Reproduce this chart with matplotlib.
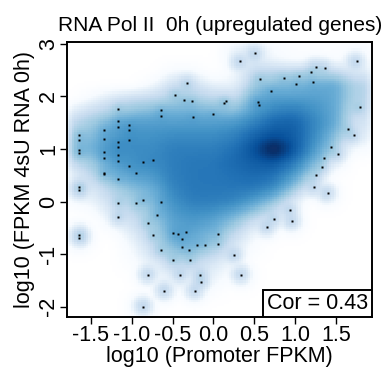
import numpy as np
import matplotlib
matplotlib.use("Agg")
import matplotlib.pyplot as plt
from matplotlib.colors import LinearSegmentedColormap
from matplotlib.patches import Rectangle

plt.rcParams["font.family"] = ["Liberation Sans", "DejaVu Sans"]
plt.rcParams["axes.unicode_minus"] = False

# coarse density (colour level 0-1), rows = y, cols = x
grid_x = [-1.75, -1.5, -1.25, -1.0, -0.75, -0.5, -0.25, 0.0, 0.25, 0.5, 0.75, 1.0, 1.25, 1.5, 1.75]
grid_y = [2.75, 2.5, 2.25, 2.0, 1.75, 1.5, 1.25, 1.0, 0.75, 0.5, 0.25, 0.0,
          -0.25, -0.5, -0.75, -1.0, -1.25, -1.5, -1.75, -2.0]
density = [
    [0, 0, 0, 0, 0, 0, 0, 0, 0.15, 0.2, 0.1, 0.05, 0.05, 0.05, 0.1],
    [0, 0, 0, 0, 0, 0.1, 0.1, 0, 0.1, 0.3, 0.32, 0.32, 0.32, 0.3, 0.2],
    [0, 0, 0, 0, 0.1, 0.28, 0.28, 0.15, 0.15, 0.38, 0.45, 0.45, 0.5, 0.52, 0.35],
    [0, 0.1, 0.22, 0.28, 0.3, 0.35, 0.35, 0.32, 0.28, 0.5, 0.55, 0.55, 0.55, 0.52, 0.35],
    [0.18, 0.28, 0.35, 0.42, 0.45, 0.48, 0.48, 0.45, 0.42, 0.55, 0.64, 0.66, 0.6, 0.52, 0.3],
    [0.32, 0.4, 0.5, 0.56, 0.56, 0.56, 0.56, 0.56, 0.58, 0.65, 0.74, 0.75, 0.64, 0.52, 0.25],
    [0.38, 0.45, 0.56, 0.6, 0.6, 0.62, 0.62, 0.62, 0.65, 0.74, 0.8, 0.76, 0.62, 0.45, 0.2],
    [0.42, 0.5, 0.6, 0.62, 0.62, 0.66, 0.66, 0.66, 0.7, 0.8, 1.0, 0.78, 0.58, 0.35, 0.1],
    [0.32, 0.4, 0.55, 0.6, 0.62, 0.66, 0.68, 0.68, 0.72, 0.76, 0.78, 0.68, 0.48, 0.2, 0],
    [0.15, 0.32, 0.48, 0.54, 0.58, 0.66, 0.68, 0.68, 0.7, 0.72, 0.7, 0.56, 0.32, 0.05, 0],
    [0.28, 0.22, 0.36, 0.45, 0.5, 0.64, 0.68, 0.68, 0.68, 0.68, 0.62, 0.42, 0.15, 0, 0],
    [0.1, 0.15, 0.28, 0.36, 0.46, 0.6, 0.66, 0.66, 0.64, 0.55, 0.42, 0.2, 0, 0, 0],
    [0, 0.05, 0.22, 0.3, 0.42, 0.56, 0.6, 0.58, 0.5, 0.38, 0.25, 0.1, 0, 0, 0],
    [0, 0, 0.1, 0.24, 0.36, 0.53, 0.55, 0.5, 0.38, 0.2, 0.1, 0, 0, 0, 0],
    [0.05, 0, 0, 0.15, 0.32, 0.5, 0.5, 0.42, 0.26, 0.1, 0, 0, 0, 0, 0],
    [0, 0, 0, 0.1, 0.26, 0.4, 0.4, 0.32, 0.2, 0.05, 0, 0, 0, 0, 0],
    [0, 0, 0, 0.05, 0.15, 0.28, 0.28, 0.2, 0.1, 0, 0, 0, 0, 0, 0],
    [0, 0, 0, 0, 0.1, 0.15, 0.15, 0.15, 0.05, 0, 0, 0, 0, 0, 0],
    [0, 0, 0, 0, 0.05, 0.1, 0.1, 0.05, 0, 0, 0, 0, 0, 0, 0],
    [0, 0, 0, 0, 0, 0, 0, 0, 0, 0, 0, 0, 0, 0, 0],
]

# low-density points drawn as dots
pts_x = [0.508, 0.324, 1.753, 1.251, 1.361, 1.19, 1.043, 0.863, 0.569, 1.006,
         1.218, -0.329, 0.7, -0.471, -0.361, -0.263, 0.153, 0.124, 0.545, 0.557,
         1.79, -1.169, -0.647, -0.647, -0.255, -0.010, -1.169, -1.169, -1.039, -1.039,
         -1.345, -1.647, -1.647, -1.345, -1.039, -1.169, -1.169, -1.647, -1.647, -1.345,
         -1.345, -1.169, -1.169, -0.863, -0.745, -1.039, -0.949, -1.345, -1.345, -1.169,
         1.643, 1.716, 1.435, 1.520, 1.349, 1.324, 1.251, 1.231, 1.398, -1.647,
         -1.647, -1.169, -0.949, -0.863, -0.647, -1.169, -0.696, -0.806, 0.937, 0.961,
         0.741, 0.655, -0.745, -1.647, -1.647, -0.496, -0.435, -0.341, -0.390, 0.051,
         0.059, -0.206, -0.108, -0.390, -0.304, -0.647, 0.251, -0.496, -0.292, -0.806,
         -0.410, -0.165, 0.337, -0.157, -0.606, -0.231, -0.867]
pts_y = [2.823, 2.671, 2.671, 2.557, 2.538, 2.456, 2.386, 2.348, 2.329, 2.234,
         2.272, 2.253, 2.101, 2.025, 1.924, 1.911, 1.911, 1.873, 1.886, 1.835,
         1.797, 1.759, 1.734, 1.627, 1.608, 1.665, 1.532, 1.418, 1.456, 1.361,
         1.361, 1.266, 1.171, 1.19, 1.177, 1.127, 1.032, 0.975, 0.924, 0.943,
         0.835, 0.880, 0.772, 0.753, 0.791, 0.677, 0.544, 0.551, 0.519, 0.430,
         1.380, 1.266, 1.038, 0.905, 0.829, 0.658, 0.506, 0.278, 0.165, 0.278,
         0.222, -0.025, -0.025, 0.032, -0.006, -0.291, -0.253, -0.405, -0.165, -0.367,
         -0.329, -0.481, -0.633, -0.633, -0.690, -0.595, -0.614, -0.576, -0.709, -0.614,
         -0.804, -0.823, -0.823, -0.861, -0.918, -0.924, -1.019, -1.108, -1.108, -1.392,
         -1.392, -1.392, -1.392, -1.525, -1.696, -1.696, -2.0]

cor_text = "Cor = 0.43"
xlim = (-1.79, 1.945)
ylim = (-2.19, 3.03)

blues = ["#FFFFFF", "#F7FBFF", "#DEEBF7", "#C6DBEF", "#9ECAE1", "#6BAED6",
         "#4292C6", "#2171B5", "#08519C", "#08306B", "#2E2D5F"]
cmap = LinearSegmentedColormap.from_list("smooth", blues)

# build the smoothed image on a 128 x 128 raster
nbin = 128
fx = np.linspace(xlim[0], xlim[1], nbin)
fy = np.linspace(ylim[0], ylim[1], nbin)
dens = np.array(density, dtype=float)[::-1]
gy = np.array(grid_y)[::-1]
tmp = np.array([np.interp(fx, grid_x, row) for row in dens])
lev = np.array([np.interp(fy, gy, tmp[:, j]) for j in range(nbin)]).T

k = np.exp(-0.5 * (np.arange(-6, 7) / 2.0) ** 2)
k /= k.sum()
lev = np.apply_along_axis(lambda v: np.convolve(v, k, mode="same"), 0, lev)
lev = np.apply_along_axis(lambda v: np.convolve(v, k, mode="same"), 1, lev)

X, Y = np.meshgrid(fx, fy)
d = np.clip(lev, 0, None) ** 4
for px, py in zip(pts_x, pts_y):
    d += 0.008 * np.exp(-((X - px) ** 2 / (2 * 0.055 ** 2) + (Y - py) ** 2 / (2 * 0.085 ** 2)))
img = np.clip(d ** 0.25, 0, 1)

fig = plt.figure(figsize=(3.85, 3.69), dpi=100)
ax = fig.add_axes([0.1748, 0.1417, 0.7922, 0.7437])
ax.imshow(img, extent=[xlim[0], xlim[1], ylim[0], ylim[1]], origin="lower",
          cmap=cmap, vmin=0, vmax=1, aspect="auto", interpolation="nearest")
ax.plot(pts_x, pts_y, "s", ms=1.6, mec="none", c="black")
ax.set_xlim(xlim)
ax.set_ylim(ylim)

fs = 15.5
ax.set_xticks([-1.5, -1.0, -0.5, 0.0, 0.5, 1.0, 1.5])
ax.set_xticklabels(["-1.5", "-1.0", "-0.5", "0.0", "0.5", "1.0", "1.5"])
ax.set_yticks([-2, -1, 0, 1, 2, 3])
ax.set_yticklabels(["-2", "-1", "0", "1", "2", "3"], rotation=90, va="center")
ax.tick_params(length=5, width=1, labelsize=fs, pad=1, colors="black")
for s in ax.spines.values():
    s.set_linewidth(1.4)

ax.set_xlabel("log10 (Promoter FPKM)", fontsize=fs, labelpad=0)
ax.set_ylabel("log10 (FPKM 4sU RNA 0h)", fontsize=fs, labelpad=2)
ax.set_title("RNA Pol II  0h (upregulated genes)", fontsize=15, pad=8)

ax.add_patch(Rectangle((0.6416, 0), 0.3584, 0.0973, transform=ax.transAxes,
                       facecolor="white", edgecolor="black", lw=1.4, zorder=5))
ax.text(0.8208, 0.048, cor_text, transform=ax.transAxes, ha="center", va="center",
        fontsize=fs, zorder=6)

plt.savefig("out.png", dpi=100)
plt.close()
